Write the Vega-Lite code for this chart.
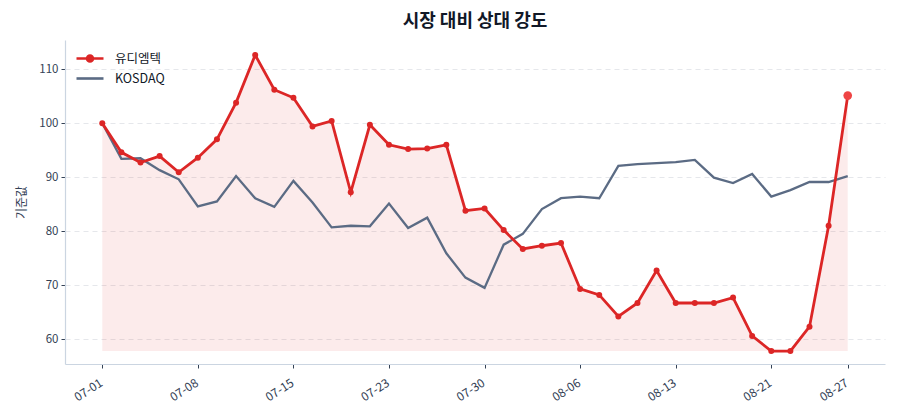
{
  "$schema": "https://vega.github.io/schema/vega-lite/v6.json",
  "description": "시장 대비 상대 강도: 유디엠텍 vs KOSDAQ (기준값 100).",
  "autosize": {"type": "none"},
  "padding": {"left": 65, "top": 40, "right": 15, "bottom": 56},
  "width": 820,
  "height": 324,
  "background": "white",
  "title": {
    "text": "시장 대비 상대 강도",
    "anchor": "middle",
    "fontSize": 18,
    "fontWeight": "bold",
    "color": "#111827",
    "font": "Noto Sans CJK KR",
    "offset": 9
  },
  "config": {
    "font": "Noto Sans CJK KR",
    "view": {"stroke": null},
    "axis": {
      "labelFont": "Noto Sans CJK KR",
      "titleFont": "Noto Sans CJK KR",
      "labelColor": "#334155",
      "titleColor": "#334155",
      "domainColor": "#cbd5e1",
      "domainWidth": 1.2,
      "tickColor": "#334155",
      "tickSize": 4,
      "labelFontSize": 11.5
    }
  },
  "data": {
    "values": [
      {"i": 0, "date": "07-01", "series": "유디엠텍", "value": 100},
      {"i": 1, "date": "07-02", "series": "유디엠텍", "value": 94.6},
      {"i": 2, "date": "07-03", "series": "유디엠텍", "value": 92.7},
      {"i": 3, "date": "07-04", "series": "유디엠텍", "value": 93.9},
      {"i": 4, "date": "07-07", "series": "유디엠텍", "value": 90.9},
      {"i": 5, "date": "07-08", "series": "유디엠텍", "value": 93.6},
      {"i": 6, "date": "07-09", "series": "유디엠텍", "value": 97.0},
      {"i": 7, "date": "07-10", "series": "유디엠텍", "value": 103.8},
      {"i": 8, "date": "07-11", "series": "유디엠텍", "value": 112.6},
      {"i": 9, "date": "07-14", "series": "유디엠텍", "value": 106.2},
      {"i": 10, "date": "07-15", "series": "유디엠텍", "value": 104.7},
      {"i": 11, "date": "07-16", "series": "유디엠텍", "value": 99.4},
      {"i": 12, "date": "07-18", "series": "유디엠텍", "value": 100.4},
      {"i": 13, "date": "07-21", "series": "유디엠텍", "value": 87.2},
      {"i": 14, "date": "07-22", "series": "유디엠텍", "value": 99.7},
      {"i": 15, "date": "07-23", "series": "유디엠텍", "value": 96.0},
      {"i": 16, "date": "07-24", "series": "유디엠텍", "value": 95.2},
      {"i": 17, "date": "07-25", "series": "유디엠텍", "value": 95.3},
      {"i": 18, "date": "07-28", "series": "유디엠텍", "value": 96.0},
      {"i": 19, "date": "07-29", "series": "유디엠텍", "value": 83.8},
      {"i": 20, "date": "07-30", "series": "유디엠텍", "value": 84.2},
      {"i": 21, "date": "07-31", "series": "유디엠텍", "value": 80.2},
      {"i": 22, "date": "08-01", "series": "유디엠텍", "value": 76.7},
      {"i": 23, "date": "08-04", "series": "유디엠텍", "value": 77.3},
      {"i": 24, "date": "08-05", "series": "유디엠텍", "value": 77.8},
      {"i": 25, "date": "08-06", "series": "유디엠텍", "value": 69.3},
      {"i": 26, "date": "08-07", "series": "유디엠텍", "value": 68.2},
      {"i": 27, "date": "08-08", "series": "유디엠텍", "value": 64.2},
      {"i": 28, "date": "08-11", "series": "유디엠텍", "value": 66.7},
      {"i": 29, "date": "08-12", "series": "유디엠텍", "value": 72.7},
      {"i": 30, "date": "08-13", "series": "유디엠텍", "value": 66.7},
      {"i": 31, "date": "08-14", "series": "유디엠텍", "value": 66.7},
      {"i": 32, "date": "08-18", "series": "유디엠텍", "value": 66.7},
      {"i": 33, "date": "08-19", "series": "유디엠텍", "value": 67.7},
      {"i": 34, "date": "08-20", "series": "유디엠텍", "value": 60.6},
      {"i": 35, "date": "08-21", "series": "유디엠텍", "value": 57.8},
      {"i": 36, "date": "08-22", "series": "유디엠텍", "value": 57.8},
      {"i": 37, "date": "08-25", "series": "유디엠텍", "value": 62.3},
      {"i": 38, "date": "08-26", "series": "유디엠텍", "value": 81.0},
      {"i": 39, "date": "08-27", "series": "유디엠텍", "value": 105.1},
      {"i": 0, "date": "07-01", "series": "KOSDAQ", "value": 100},
      {"i": 1, "date": "07-02", "series": "KOSDAQ", "value": 93.4},
      {"i": 2, "date": "07-03", "series": "KOSDAQ", "value": 93.5},
      {"i": 3, "date": "07-04", "series": "KOSDAQ", "value": 91.3},
      {"i": 4, "date": "07-07", "series": "KOSDAQ", "value": 89.6},
      {"i": 5, "date": "07-08", "series": "KOSDAQ", "value": 84.6},
      {"i": 6, "date": "07-09", "series": "KOSDAQ", "value": 85.5},
      {"i": 7, "date": "07-10", "series": "KOSDAQ", "value": 90.2},
      {"i": 8, "date": "07-11", "series": "KOSDAQ", "value": 86.1},
      {"i": 9, "date": "07-14", "series": "KOSDAQ", "value": 84.5},
      {"i": 10, "date": "07-15", "series": "KOSDAQ", "value": 89.3},
      {"i": 11, "date": "07-16", "series": "KOSDAQ", "value": 85.3},
      {"i": 12, "date": "07-18", "series": "KOSDAQ", "value": 80.7},
      {"i": 13, "date": "07-21", "series": "KOSDAQ", "value": 81.0},
      {"i": 14, "date": "07-22", "series": "KOSDAQ", "value": 80.9},
      {"i": 15, "date": "07-23", "series": "KOSDAQ", "value": 85.1},
      {"i": 16, "date": "07-24", "series": "KOSDAQ", "value": 80.6},
      {"i": 17, "date": "07-25", "series": "KOSDAQ", "value": 82.5},
      {"i": 18, "date": "07-28", "series": "KOSDAQ", "value": 75.9},
      {"i": 19, "date": "07-29", "series": "KOSDAQ", "value": 71.4},
      {"i": 20, "date": "07-30", "series": "KOSDAQ", "value": 69.5},
      {"i": 21, "date": "07-31", "series": "KOSDAQ", "value": 77.5},
      {"i": 22, "date": "08-01", "series": "KOSDAQ", "value": 79.5},
      {"i": 23, "date": "08-04", "series": "KOSDAQ", "value": 84.1},
      {"i": 24, "date": "08-05", "series": "KOSDAQ", "value": 86.1},
      {"i": 25, "date": "08-06", "series": "KOSDAQ", "value": 86.4},
      {"i": 26, "date": "08-07", "series": "KOSDAQ", "value": 86.1},
      {"i": 27, "date": "08-08", "series": "KOSDAQ", "value": 92.1},
      {"i": 28, "date": "08-11", "series": "KOSDAQ", "value": 92.4},
      {"i": 29, "date": "08-12", "series": "KOSDAQ", "value": 92.6},
      {"i": 30, "date": "08-13", "series": "KOSDAQ", "value": 92.8},
      {"i": 31, "date": "08-14", "series": "KOSDAQ", "value": 93.2},
      {"i": 32, "date": "08-18", "series": "KOSDAQ", "value": 89.9},
      {"i": 33, "date": "08-19", "series": "KOSDAQ", "value": 88.9},
      {"i": 34, "date": "08-20", "series": "KOSDAQ", "value": 90.6},
      {"i": 35, "date": "08-21", "series": "KOSDAQ", "value": 86.4},
      {"i": 36, "date": "08-22", "series": "KOSDAQ", "value": 87.6},
      {"i": 37, "date": "08-25", "series": "KOSDAQ", "value": 89.1},
      {"i": 38, "date": "08-26", "series": "KOSDAQ", "value": 89.1},
      {"i": 39, "date": "08-27", "series": "KOSDAQ", "value": 90.2}
    ]
  },
  "encoding": {
    "x": {
      "field": "i",
      "type": "quantitative",
      "scale": {"domain": [-1.95, 40.95], "nice": false, "zero": false},
      "axis": {
        "title": null,
        "values": [0, 5, 10, 15, 20, 25, 30, 35, 39],
        "labelExpr": "['07-01', '07-08', '07-15', '07-23', '07-30', '08-06', '08-13', '08-21', '08-27'][indexof([0, 5, 10, 15, 20, 25, 30, 35, 39], datum.value)]",
        "labelAngle": -33,
        "labelAlign": "right",
        "labelBaseline": "top",
        "labelPadding": 9,
        "labelOffset": -4,
        "labelFontSize": 12,
        "labelFlush": false,
        "labelOverlap": false,
        "grid": false
      }
    },
    "y": {
      "field": "value",
      "type": "quantitative",
      "scale": {"domain": [55.4, 115.4], "nice": false, "zero": false},
      "axis": {
        "title": "기준값",
        "titleFontSize": 12,
        "titleFontWeight": "normal",
        "titlePadding": 10,
        "values": [60, 70, 80, 90, 100, 110],
        "labelPadding": 3,
        "grid": true,
        "gridColor": "#e5e7eb",
        "gridDash": [5, 4],
        "gridWidth": 1
      }
    }
  },
  "layer": [
    {
      "transform": [{"filter": "datum.series === '유디엠텍'"}],
      "mark": {"type": "area", "color": "#dc2626", "opacity": 0.09},
      "encoding": {"y2": {"datum": 57.8}}
    },
    {
      "transform": [{"filter": "datum.series === 'KOSDAQ'"}],
      "mark": {"type": "line", "strokeWidth": 2.3},
      "encoding": {
        "color": {
          "field": "series",
          "type": "nominal",
          "scale": {"domain": ["유디엠텍", "KOSDAQ"], "range": ["#dc2626", "#5b6b84"]},
          "legend": {
            "title": null,
            "orient": "none",
            "legendX": 13.5,
            "legendY": 7,
            "padding": 0,
            "rowPadding": 0,
            "symbolSize": 400,
            "symbolStrokeWidth": 2.6,
            "labelFontSize": 12.5,
            "labelColor": "#111827",
            "labelFont": "Noto Sans CJK KR",
            "labelOffset": 13.5,
            "encode": {
              "symbols": {
                "update": {
                  "shape": {"signal": "datum.value === '유디엠텍' ? 'M-1.35,0L1.35,0M0.3,0A0.3,0.3,0,1,1,-0.3,0A0.3,0.3,0,1,1,0.3,0Z' : 'M-1.35,0L1.35,0'"},
                  "fill": {"signal": "datum.value === '유디엠텍' ? '#dc2626' : 'transparent'"},
                  "fillOpacity": {"value": 1}
                }
              }
            }
          }
        }
      }
    },
    {
      "transform": [{"filter": "datum.series === '유디엠텍'"}],
      "mark": {"type": "line", "strokeWidth": 2.8},
      "encoding": {
        "color": {"field": "series", "type": "nominal"}
      }
    },
    {
      "transform": [{"filter": "datum.series === '유디엠텍'"}],
      "mark": {"type": "point", "filled": true, "color": "#dc2626", "size": 36, "opacity": 1}
    },
    {
      "transform": [{"filter": "datum.series === '유디엠텍' && datum.i === 39"}],
      "mark": {"type": "point", "filled": true, "color": "#ef4444", "size": 75, "opacity": 1}
    }
  ]
}
